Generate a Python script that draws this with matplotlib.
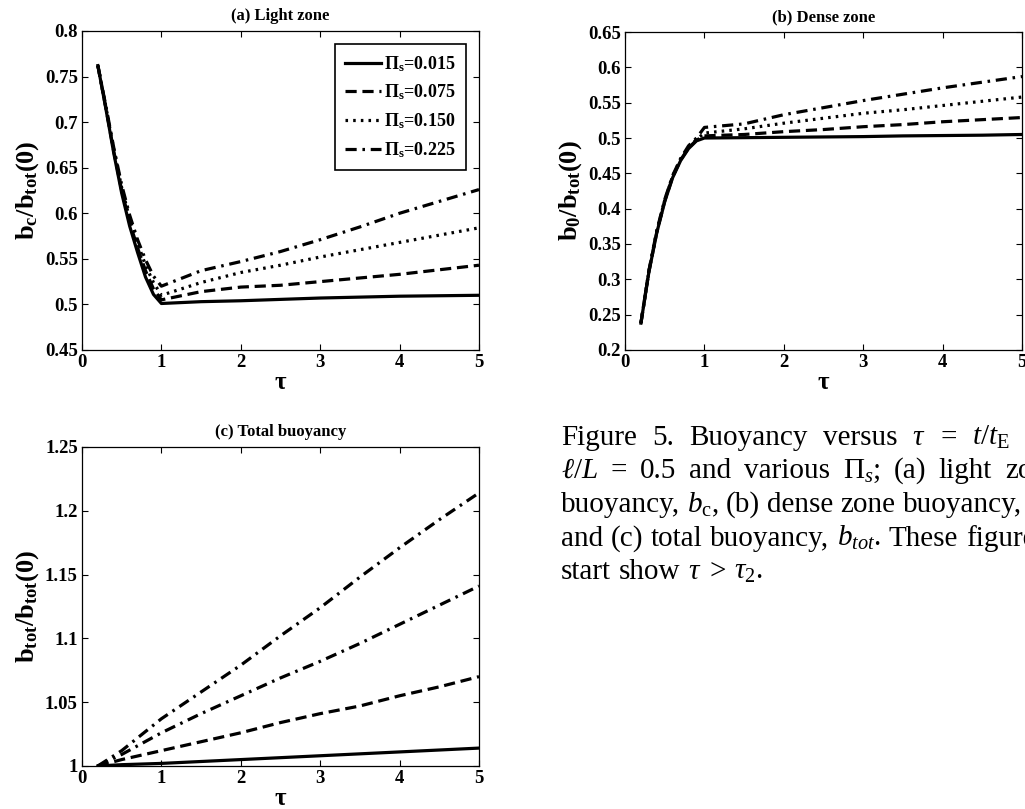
import numpy as np
import matplotlib
matplotlib.use('Agg')
import matplotlib.pyplot as plt
from matplotlib.ticker import MultipleLocator, FuncFormatter

plt.rcParams['font.family'] = ['Liberation Serif', 'DejaVu Serif']
plt.rcParams['mathtext.fontset'] = 'custom'
plt.rcParams['mathtext.rm'] = 'Liberation Serif'
plt.rcParams['mathtext.it'] = 'Liberation Serif:italic'
plt.rcParams['mathtext.bf'] = 'Liberation Serif:bold'

PI_S = ['0.015', '0.075', '0.150', '0.225']

# (a) light zone, b_c / b_tot(0)
tau_a = [0.2, 0.3, 0.4, 0.5, 0.6, 0.7, 0.8, 0.9, 1.0, 1.5, 2.0, 2.5, 3.0, 3.5, 4.0, 4.5, 5.0]
bc_015 = [0.762, 0.715, 0.666, 0.622, 0.586, 0.557, 0.530, 0.511, 0.501, 0.503, 0.504, 0.5055, 0.507, 0.508, 0.509, 0.5095, 0.510]
bc_075 = [0.762, 0.716, 0.668, 0.625, 0.590, 0.562, 0.537, 0.517, 0.505, 0.514, 0.519, 0.521, 0.525, 0.529, 0.533, 0.538, 0.543]
bc_150 = [0.762, 0.717, 0.670, 0.628, 0.594, 0.567, 0.543, 0.524, 0.510, 0.524, 0.535, 0.543, 0.552, 0.560, 0.568, 0.576, 0.584]
bc_225 = [0.762, 0.718, 0.672, 0.631, 0.598, 0.571, 0.549, 0.531, 0.520, 0.537, 0.547, 0.558, 0.571, 0.585, 0.600, 0.613, 0.626]

# (b) dense zone, b_0 / b_tot(0)
tau_b = [0.2, 0.3, 0.4, 0.5, 0.6, 0.7, 0.8, 0.9, 1.0, 1.5, 2.0, 2.5, 3.0, 3.5, 4.0, 4.5, 5.0]
b0_015 = [0.238, 0.310, 0.366, 0.410, 0.444, 0.468, 0.485, 0.496, 0.500, 0.5005, 0.501, 0.5015, 0.502, 0.503, 0.5035, 0.504, 0.505]
b0_075 = [0.238, 0.311, 0.367, 0.411, 0.445, 0.469, 0.486, 0.497, 0.503, 0.505, 0.509, 0.512, 0.516, 0.519, 0.523, 0.526, 0.529]
b0_150 = [0.238, 0.311, 0.368, 0.412, 0.446, 0.470, 0.487, 0.498, 0.507, 0.513, 0.521, 0.528, 0.535, 0.540, 0.546, 0.552, 0.558]
b0_225 = [0.238, 0.312, 0.369, 0.413, 0.447, 0.471, 0.489, 0.500, 0.515, 0.520, 0.533, 0.543, 0.553, 0.562, 0.571, 0.579, 0.587]

# (c) total buoyancy, b_tot / b_tot(0)
tau_c = [0.2, 0.5, 1.0, 1.5, 2.0, 2.5, 3.0, 3.5, 4.0, 4.5, 5.0]
bt_015 = [1.000, 1.001, 1.002, 1.0035, 1.005, 1.0065, 1.008, 1.0095, 1.011, 1.0125, 1.014]
bt_075 = [1.000, 1.005, 1.012, 1.019, 1.026, 1.034, 1.041, 1.047, 1.055, 1.062, 1.070]
bt_150 = [1.000, 1.009, 1.026, 1.041, 1.055, 1.069, 1.082, 1.096, 1.111, 1.126, 1.141]
bt_225 = [1.000, 1.012, 1.037, 1.058, 1.079, 1.102, 1.124, 1.148, 1.171, 1.193, 1.214]

styles = ['-', (0, (3.5, 1.8)), (0, (0.8, 1.6)), (0, (3.5, 1.8, 0.8, 1.8))]
styles_c = ['-', (0, (3.5, 1.8)), (0, (3.5, 1.8, 0.8, 1.8)), (0, (3.5, 1.8, 0.8, 1.8))]
LW = 2.3

W, H = 1025, 809
fig = plt.figure(figsize=(W / 100, H / 100), dpi=100)
ax_a = fig.add_axes([0.080, 0.5674, 0.3873, 0.3943])
ax_b = fig.add_axes([0.6098, 0.5674, 0.3873, 0.3930])
ax_c = fig.add_axes([0.080, 0.0532, 0.3873, 0.3943])

fmt = FuncFormatter(lambda v, p: '%g' % round(v, 4))


def style_axes(ax, ylim, ystep, title, ylabel):
    ax.set_xlim(0, 5)
    ax.set_ylim(*ylim)
    ax.xaxis.set_major_locator(MultipleLocator(1))
    ax.yaxis.set_major_locator(MultipleLocator(ystep))
    ax.xaxis.set_major_formatter(fmt)
    ax.yaxis.set_major_formatter(fmt)
    ax.tick_params(direction='in', top=True, right=True, length=4, width=0.8,
                   labelsize=13.5, pad=3)
    for lab in ax.get_xticklabels() + ax.get_yticklabels():
        lab.set_fontweight('bold')
    for s in ax.spines.values():
        s.set_linewidth(0.9)
    ax.set_title(title, fontsize=12, fontweight='bold', pad=8)
    ax.set_xlabel('τ', fontsize=18, fontweight='bold', labelpad=0)
    ax.set_ylabel(ylabel, fontsize=19, fontweight='bold', labelpad=3)


for y, ls, pi in zip([bc_015, bc_075, bc_150, bc_225], styles, PI_S):
    ax_a.plot(tau_a, y, color='black', lw=LW, linestyle=ls,
              label=r'$\mathregular{\Pi_s}$=' + pi)
for y, ls in zip([b0_015, b0_075, b0_150, b0_225], styles):
    ax_b.plot(tau_b, y, color='black', lw=LW, linestyle=ls)
for y, ls in zip([bt_015, bt_075, bt_150, bt_225], styles_c):
    ax_c.plot(tau_c, y, color='black', lw=LW, linestyle=ls)

style_axes(ax_a, (0.45, 0.8), 0.05, '(a) Light zone',
           r'$\mathregular{b_c/b_{tot}(0)}$')
style_axes(ax_b, (0.2, 0.65), 0.05, '(b) Dense zone',
           r'$\mathregular{b_0/b_{tot}(0)}$')
style_axes(ax_c, (1.0, 1.25), 0.05, '(c) Total buoyancy',
           r'$\mathregular{b_{tot}/b_{tot}(0)}$')

leg = ax_a.legend(loc='upper right', prop={'weight': 'bold', 'size': 13},
                  handlelength=2.0, handletextpad=0.2, labelspacing=0.5,
                  borderpad=0.55, borderaxespad=0, fancybox=False, framealpha=1,
                  bbox_to_anchor=(0.967, 0.959))
leg.get_frame().set_edgecolor('black')
leg.get_frame().set_linewidth(1.2)

# caption, justified word by word: words up to index k span x0..x1,
# the remaining words follow with the same gap
cap_x0 = 561
cap_lines = [
    (['Figure', '5.', 'Buoyancy', 'versus', r'$\tau$', '=', r'$t/t_{\mathrm{E}}$'], 7, 1010),
    ([r'$\ell/L$', '=', '0.5', 'and', 'various', r'$\Pi_s$;', '(a)', 'light', 'zone'], 8, 992),
    (['buoyancy,', r'$b_{\mathrm{c}}$,', '(b)', 'dense', 'zone', 'buoyancy,'], 6, 1022),
    (['and', '(c)', 'total', 'buoyancy,', r'$b_{tot}$.', 'These', 'figures'], 6, 958),
    (['start', 'show', r'$\tau$', '>', r'$\tau_2$.'], 5, 763),
]
cap_base = [445, 478, 512, 546, 579]

renderer = fig.canvas.get_renderer()
for (words, k, x1), yb in zip(cap_lines, cap_base):
    texts = [fig.text(0, 1 - yb / H, w, fontsize=21, va='baseline', ha='left')
             for w in words]
    widths = [t.get_window_extent(renderer).width for t in texts]
    gap = (x1 - cap_x0 - sum(widths[:k])) / (k - 1)
    x = cap_x0
    for t, w in zip(texts, widths):
        t.set_x(x / W)
        x += w + gap

fig.savefig('out.png', dpi=100)
